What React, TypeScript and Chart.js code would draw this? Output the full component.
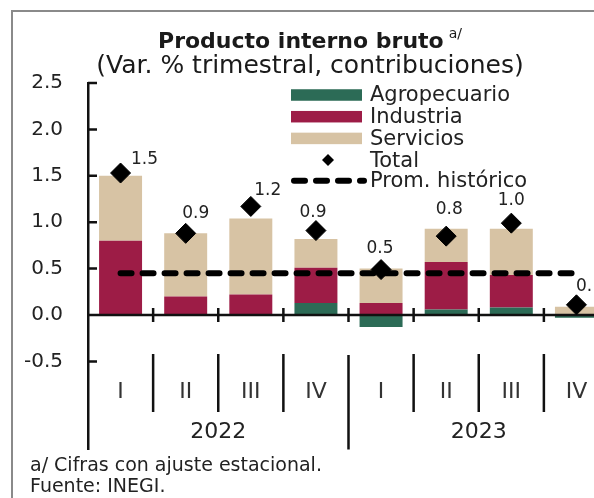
import React, { useEffect, useRef } from 'react';
import { Chart, registerables } from 'chart.js';

Chart.register(...registerables);

const FONT = '"DejaVu Sans", sans-serif';

// ---- data ----
const quarters = ['I', 'II', 'III', 'IV', 'I', 'II', 'III', 'IV'];
const years = ['2022', '2023'];
const agropecuario = [0.0, 0.0, 0.0, 0.13, -0.13, 0.06, 0.08, -0.03];
const industria = [0.8, 0.2, 0.22, 0.38, 0.13, 0.51, 0.35, 0.01];
const servicios = [0.7, 0.68, 0.82, 0.31, 0.37, 0.36, 0.5, 0.08];
const total = [1.53, 0.88, 1.17, 0.91, 0.49, 0.85, 0.99, 0.11];
const totalLabels = ['1.5', '0.9', '1.2', '0.9', '0.5', '0.8', '1.0', '0.1'];
const promHistorico = [0.45, 0.45, 0.45, 0.45, 0.45, 0.45, 0.45, 0.45];
const yTicks = [-0.5, 0, 0.5, 1.0, 1.5, 2.0, 2.5];
const yMin = -1.45;
const yMax = 2.5;
const seriesNames = ['Agropecuario', 'Industria', 'Servicios', 'Total', 'Prom. histórico'];
const titleText = 'Producto interno bruto';
const titleSup = 'a/';
const subtitleText = '(Var. % trimestral, contribuciones)';
const footnotes = ['a/ Cifras con ajuste estacional.', 'Fuente: INEGI.'];
// label nudges (relative to diamond)
const labelNudge = [[24, -13], [10, -20], [17, -16], [-3, -18], [-1, -21], [3, -27], [0, -23], [13, -18]];

const colAgro = '#2c6b56';
const colInd = '#9d1c46';
const colServ = '#d7c3a4';

export default function App() {
  const ref = useRef<HTMLCanvasElement>(null);

  useEffect(() => {
    const canvas = ref.current!;
    Chart.defaults.font.family = FONT;

    const overlay = {
      id: 'overlay',
      beforeDraw(chart: any) {
        const { ctx, width, height } = chart;
        ctx.save();
        ctx.fillStyle = '#ffffff';
        ctx.fillRect(0, 0, width, height);
        ctx.strokeStyle = '#8a8a8a';
        ctx.lineWidth = 2;
        ctx.beginPath();
        ctx.moveTo(12, height);
        ctx.lineTo(12, 11);
        ctx.lineTo(width, 11);
        ctx.stroke();

        // title
        const cx = width / 2;
        ctx.fillStyle = '#1a1a1a';
        ctx.textBaseline = 'middle';
        ctx.textAlign = 'left';
        ctx.font = `bold 22px ${FONT}`;
        const wMain = ctx.measureText(titleText).width;
        ctx.font = `14px ${FONT}`;
        const wSup = ctx.measureText(titleSup).width;
        const start = cx - (wMain + 5 + wSup) / 2;
        ctx.font = `bold 22px ${FONT}`;
        ctx.fillText(titleText, start, 42);
        ctx.font = `14px ${FONT}`;
        ctx.fillText(titleSup, start + wMain + 5, 34);
        ctx.font = `25px ${FONT}`;
        ctx.textAlign = 'center';
        ctx.fillText(subtitleText, cx, 66);
        ctx.restore();
      },
      afterDatasetDraw(chart: any, args: any) {
        if (args.index !== 0) return;
        const { ctx, chartArea } = chart;
        const xs = chart.scales.x;
        const ys = chart.scales.y;
        const y0 = ys.getPixelForValue(0);
        const step = xs.getPixelForValue(1) - xs.getPixelForValue(0);
        ctx.save();
        ctx.strokeStyle = '#111';
        ctx.lineWidth = 2.5;
        ctx.beginPath();
        ctx.moveTo(chartArea.left, y0);
        ctx.lineTo(chartArea.right, y0);
        for (let k = 1; k <= quarters.length; k++) {
          const bx = xs.getPixelForValue(k - 1) + step / 2;
          ctx.moveTo(bx, y0 - 7);
          ctx.lineTo(bx, y0 + 7);
        }
        for (const v of yTicks) {
          const py = ys.getPixelForValue(v);
          ctx.moveTo(chartArea.left, py);
          ctx.lineTo(chartArea.left + 9, py);
        }
        ctx.stroke();
        ctx.restore();
      },
      afterDraw(chart: any) {
        const { ctx, chartArea } = chart;
        const xs = chart.scales.x;
        const ys = chart.scales.y;
        const y0 = ys.getPixelForValue(0);
        const step = xs.getPixelForValue(1) - xs.getPixelForValue(0);
        ctx.save();
        // separators
        ctx.strokeStyle = '#111';
        ctx.lineWidth = 2.5;
        ctx.beginPath();
        for (let k = 1; k <= quarters.length; k++) {
          const bx = xs.getPixelForValue(k - 1) + step / 2;
          if (k % 4 === 0) {
            ctx.moveTo(bx, y0 + 40);
            ctx.lineTo(bx, chartArea.bottom);
          } else {
            ctx.moveTo(bx, y0 + 39);
            ctx.lineTo(bx, y0 + 97);
          }
        }
        ctx.stroke();
        // quarter labels
        ctx.textAlign = 'center';
        ctx.textBaseline = 'middle';
        ctx.fillStyle = '#333';
        ctx.font = `22px ${FONT}`;
        quarters.forEach((q, i) => ctx.fillText(q, xs.getPixelForValue(i), y0 + 77));
        ctx.fillStyle = '#222';
        years.forEach((yr, j) => {
          const a = xs.getPixelForValue(j * 4) - step / 2;
          const b = xs.getPixelForValue(j * 4 + 3) + step / 2;
          ctx.fillText(yr, (a + b) / 2, y0 + 117);
        });
        // footnotes
        ctx.textAlign = 'left';
        ctx.font = `19px ${FONT}`;
        ctx.fillText(footnotes[0], 30, 466);
        ctx.fillText(footnotes[1], 30, 487);
        // total labels
        ctx.textAlign = 'center';
        ctx.font = `17px ${FONT}`;
        const meta = chart.getDatasetMeta(3);
        meta.data.forEach((pt: any, i: number) => {
          ctx.fillText(totalLabels[i], pt.x + labelNudge[i][0], pt.y + labelNudge[i][1]);
        });
        // legend
        const lx = chartArea.left + 203;
        const tx = chartArea.left + 282;
        const ly = chartArea.top + 12;
        const pitch = 21.7;
        const ds = chart.data.datasets;
        ctx.font = `21px ${FONT}`;
        ctx.textAlign = 'left';
        ctx.fillStyle = '#222';
        for (let i = 0; i < 3; i++) {
          const cy = ly + i * pitch;
          ctx.fillStyle = ds[i].backgroundColor;
          ctx.fillRect(lx, cy - 5.75, 71, 11.5);
          ctx.fillStyle = '#222';
          ctx.fillText(seriesNames[i], tx, cy + 1);
        }
        // total diamond
        const dy = ly + 3 * pitch;
        const dcx = chartArea.left + 240;
        ctx.fillStyle = '#000';
        ctx.beginPath();
        ctx.moveTo(dcx, dy - 6);
        ctx.lineTo(dcx + 6, dy);
        ctx.lineTo(dcx, dy + 6);
        ctx.lineTo(dcx - 6, dy);
        ctx.closePath();
        ctx.fill();
        ctx.fillStyle = '#222';
        ctx.fillText(seriesNames[3], tx, dy + 1);
        // prom line
        const py = ly + 4 * pitch - 1;
        ctx.strokeStyle = '#000';
        ctx.lineWidth = 6;
        ctx.lineCap = 'round';
        ctx.setLineDash([11, 11]);
        ctx.beginPath();
        ctx.moveTo(lx + 3, py);
        ctx.lineTo(lx + 73, py);
        ctx.stroke();
        ctx.setLineDash([]);
        ctx.fillText(seriesNames[4], tx, py + 1);
        ctx.restore();
      },
    };

    const chart = new Chart(canvas, {
      type: 'bar',
      data: {
        labels: quarters,
        datasets: [
          { type: 'bar', label: seriesNames[0], data: agropecuario, backgroundColor: colAgro, stack: 'bars', order: 2, borderWidth: 0 },
          { type: 'bar', label: seriesNames[1], data: industria, backgroundColor: colInd, stack: 'bars', order: 2, borderWidth: 0 },
          { type: 'bar', label: seriesNames[2], data: servicios, backgroundColor: colServ, stack: 'bars', order: 2, borderWidth: 0 },
          {
            type: 'line', label: seriesNames[3], data: total, stack: 'total', order: 0,
            showLine: false, pointStyle: 'rectRot', pointRadius: 10, pointBackgroundColor: '#000',
            pointBorderColor: '#000', pointBorderWidth: 1, backgroundColor: '#000', borderColor: '#000',
          },
          {
            type: 'line', label: seriesNames[4], data: promHistorico, stack: 'prom', order: 1,
            borderColor: '#000', borderWidth: 6, borderDash: [11, 11], borderCapStyle: 'round',
            pointRadius: 0, tension: 0, fill: false,
          },
        ] as any,
      },
      options: {
        responsive: false,
        animation: false,
        events: [],
        layout: { padding: { left: 10, right: 10, top: 83, bottom: 48.4 } },
        datasets: { bar: { barPercentage: 0.66, categoryPercentage: 1.0 } },
        plugins: {
          legend: { display: false },
          title: { display: false },
          tooltip: { enabled: false },
        },
        scales: {
          x: { type: 'category', display: false, stacked: true, offset: true },
          y: {
            type: 'linear',
            stacked: true,
            min: yMin,
            max: yMax,
            grid: { display: false, drawTicks: false },
            border: { display: true, color: '#111', width: 2.5 },
            ticks: {
              padding: 25,
              color: '#222',
              font: { size: 20, family: FONT },
              callback: (v: any) => Number(v).toFixed(1),
            },
            afterBuildTicks: (s: any) => {
              s.ticks = yTicks.map((v) => ({ value: v }));
            },
            afterFit: (s: any) => {
              s.width = 78;
            },
          },
        },
      } as any,
      plugins: [overlay],
    });
    return () => chart.destroy();
  }, []);

  return (
    <div style={{ position: 'fixed', left: 0, top: 0, width: 594, height: 498, overflow: 'hidden', background: '#fff' }}>
      <canvas ref={ref} width={620} height={498} style={{ display: 'block', width: 620, height: 498 }} />
    </div>
  );
}
